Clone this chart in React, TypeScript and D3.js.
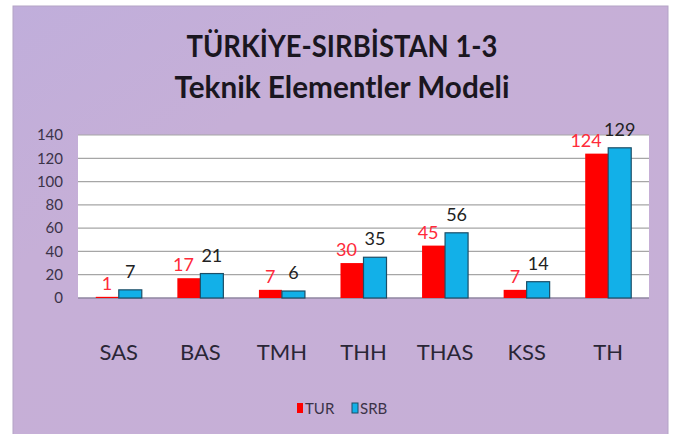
import React from "react";
import * as d3 from "d3";

const categories = ["SAS", "BAS", "TMH", "THH", "THAS", "KSS", "TH"];
const turValues = [1, 17, 7, 30, 45, 7, 124];
const srbValues = [7, 21, 6, 35, 56, 14, 129];
const yTicks = [0, 20, 40, 60, 80, 100, 120, 140];
const seriesNames = ["TUR", "SRB"];
const titleLines = ["TÜRKİYE-SIRBİSTAN 1-3", "Teknik Elementler Modeli"];

const W = 691;
const H = 434;
const plot = { left: 78, right: 649, top: 135, bottom: 298 };
const colors = { TUR: "#ff0000", SRB: "#12b0e8" };
const font = "Lato, 'Open Sans', sans-serif";

export default function App() {
  const x0 = d3
    .scaleBand<string>()
    .domain(categories)
    .range([plot.left, plot.right])
    .paddingInner(0.436)
    .paddingOuter(0.218);
  const x1 = d3.scaleBand<string>().domain(seriesNames).range([0, x0.bandwidth()]);
  const y = d3.scaleLinear().domain([0, 140]).range([plot.bottom, plot.top]);

  const series = [
    { name: "TUR", values: turValues },
    { name: "SRB", values: srbValues },
  ];
  const titleWidths = [311, 335];

  return (
    <div style={{ position: "absolute", left: 0, top: 0 }}>
      <svg width={W} height={H} style={{ display: "block" }}>
        <defs>
          <linearGradient id="bg" x1="0" y1="0" x2="1" y2="1">
            <stop offset="0" stopColor="#c0aedb" />
            <stop offset="0.3" stopColor="#c6afd7" />
            <stop offset="1" stopColor="#c6afd6" />
          </linearGradient>
        </defs>
        <rect x={0} y={0} width={W} height={H} fill="#ffffff" />
        <rect x={13} y={6} width={655} height={440} fill="url(#bg)" stroke="#b3a3c6" strokeWidth={1} />
        {titleLines.map((t, i) => (
          <text
            key={t}
            x={342}
            y={57 + i * 41}
            textAnchor="middle"
            fontFamily={font}
            fontWeight={700}
            fontSize={30}
            textLength={titleWidths[i]}
            lengthAdjust="spacingAndGlyphs"
            fill="#1a1620"
          >
            {t}
          </text>
        ))}
        <rect
          x={plot.left}
          y={plot.top}
          width={plot.right - plot.left}
          height={plot.bottom - plot.top}
          fill="#ffffff"
        />
        {yTicks.map((t) => (
          <g key={t}>
            {t > 0 && (
              <line
                x1={plot.left}
                x2={plot.right}
                y1={y(t)}
                y2={y(t)}
                stroke="#a6a6a6"
                strokeWidth={1.2}
              />
            )}
            <text
              x={63}
              y={y(t)}
              dy="0.35em"
              textAnchor="end"
              fontFamily={font}
              fontSize={15}
              fill="#3b3348"
            >
              {t}
            </text>
          </g>
        ))}
        <line
          x1={plot.left}
          x2={plot.right}
          y1={plot.bottom}
          y2={plot.bottom}
          stroke="#8f86a0"
          strokeWidth={1.5}
        />
        {categories.map((c, i) => (
          <g key={c}>
            {series.map((s) => {
              const bx = (x0(c) as number) + (x1(s.name) as number);
              const bw = x1.bandwidth();
              const v = s.values[i];
              const top = y(v);
              const isTur = s.name === "TUR";
              return (
                <g key={s.name}>
                  <rect
                    x={bx}
                    y={top}
                    width={bw}
                    height={plot.bottom - top}
                    fill={colors[s.name as "TUR" | "SRB"]}
                    stroke={isTur ? "none" : "#1d4e66"}
                    strokeWidth={1.2}
                  />
                  <text
                    x={isTur ? bx + bw / 2 + 5 : bx + bw / 2}
                    y={top - (isTur ? 7 : 12)}
                    textAnchor={isTur ? "end" : "middle"}
                    fontFamily={font}
                    fontSize={18}
                    fill={isTur ? "#ff2a3a" : "#222222"}
                  >
                    {v}
                  </text>
                </g>
              );
            })}
            <text
              x={(x0(c) as number) + x0.bandwidth() / 2}
              y={360}
              textAnchor="middle"
              fontFamily={font}
              fontSize={22}
              fill="#2a2636"
            >
              {c}
            </text>
          </g>
        ))}
        {seriesNames.map((n, i) => {
          const lx = 297 + i * 55;
          return (
            <g key={n}>
              <rect
                x={lx}
                y={403}
                width={6}
                height={10}
                fill={colors[n as "TUR" | "SRB"]}
                stroke={n === "SRB" ? "#1d4e66" : "none"}
              />
              <text x={lx + 8} y={414} fontFamily={font} fontSize={15} fill="#3b3348">
                {n}
              </text>
            </g>
          );
        })}
      </svg>
    </div>
  );
}
